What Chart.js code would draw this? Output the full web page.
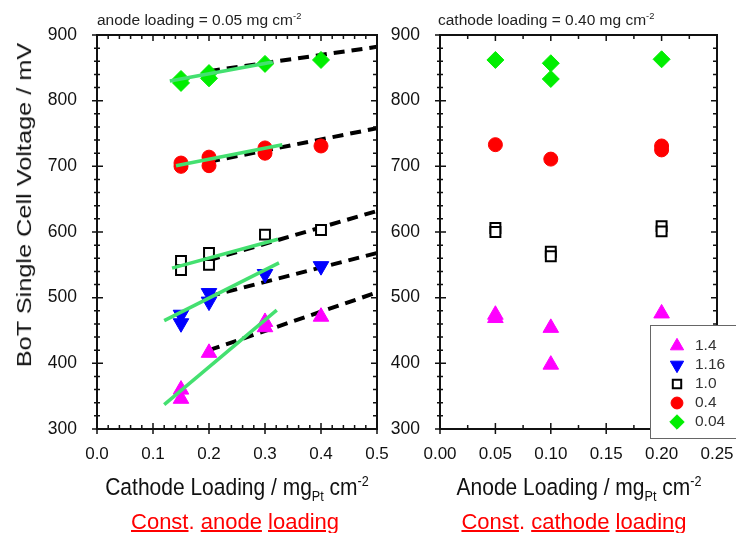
<!DOCTYPE html>
<html>
<head>
<meta charset="utf-8">
<script src="https://cdn.jsdelivr.net/npm/chart.js@4.4.0/dist/chart.umd.min.js"></script>
<style>
  body { margin: 0; background: #fff; }
  #page { position: relative; width: 736px; height: 533px; overflow: hidden; font-family: "Liberation Sans", Arial, sans-serif; }
  canvas { position: absolute; top: 0; }
  #cathodeChart { left: 0; }
  #anodeChart { left: 385px; }
  .txt { position: absolute; white-space: nowrap; transform: translate(-50%, -50%); color: #111; }
  .note { font-size: 15.5px; color: #222; transform: none; }
  .axis { font-size: 21px; transform: translate(-50%, -50%) scaleY(1.12); }
  .red { font-size: 22px; line-height: 24px; color: #ff0000; }
  .red u { text-decoration: underline; text-underline-offset: 1px; }
  sup, sub { font-size: 60%; line-height: 0; }
  #yTitle { font-size: 22px; transform: translate(-50%, -50%) rotate(-90deg) scale(1.15, 0.92); }
</style>
</head>
<body>
<div id="page">
  <canvas id="cathodeChart" width="390" height="533"></canvas>
  <canvas id="anodeChart" width="351" height="533"></canvas>

  <div class="txt note" style="left:97px; top:11px;">anode loading = 0.05 mg cm<sup>-2</sup></div>
  <div class="txt note" style="left:438px; top:11px;">cathode loading = 0.40 mg cm<sup>-2</sup></div>
  <div class="txt" id="yTitle" style="left:25px; top:205px;">BoT Single Cell Voltage / mV</div>
  <div class="txt axis" style="left:237px; top:487px;">Cathode Loading / mg<sub>Pt</sub> cm<sup>-2</sup></div>
  <div class="txt axis" style="left:579px; top:487px;">Anode Loading / mg<sub>Pt</sub> cm<sup>-2</sup></div>
  <div class="txt red" style="left:235px; top:522px;"><u>Const</u>. <u>anode</u> <u>loading</u></div>
  <div class="txt red" style="left:574px; top:522px;"><u>Const</u>. <u>cathode</u> <u>loading</u></div>
</div>

<script>
// series (legend labels, top to bottom)
var series = ['1.4', '1.16', '1.0', '0.4', '0.04'];

// left panel: cathode loading (anode = 0.05)
var cathX_14 = [0.15, 0.15, 0.2, 0.3, 0.3, 0.4];
var cathV_14 = [360, 346, 416, 463, 455, 471];
var cathX_116 = [0.15, 0.15, 0.2, 0.2, 0.3, 0.4];
var cathV_116 = [474, 461, 507, 494, 536, 548];
var cathX_10 = [0.15, 0.15, 0.2, 0.2, 0.3, 0.4];
var cathV_10 = [556, 542, 568, 550, 596, 603];
var cathX_04 = [0.15, 0.15, 0.2, 0.2, 0.3, 0.3, 0.4];
var cathV_04 = [705, 700, 714, 701, 728, 720, 731];
var cathX_004 = [0.15, 0.15, 0.2, 0.2, 0.3, 0.4];
var cathV_004 = [833, 827, 842, 834, 856, 862];

// black dashed trend lines
var dashX = [0.2, 0.5];
var dash_14 = [420, 508];
var dash_116 = [502, 568];
var dash_10 = [557, 632];
var dash_04 = [707, 758];
var dash_004 = [845, 882];

// green fit lines
var fitX_14 = [0.12, 0.321];
var fit_14 = [337, 481];
var fitX_116 = [0.12, 0.325];
var fit_116 = [465, 553];
var fitX_10 = [0.134, 0.323];
var fit_10 = [545, 589];
var fitX_04 = [0.141, 0.331];
var fit_04 = [701, 733];
var fitX_004 = [0.13, 0.314];
var fit_004 = [830, 859];

// right panel: anode loading (cathode = 0.40)
var anX_14 = [0.05, 0.05, 0.1, 0.1, 0.2];
var anV_14 = [474, 469, 454, 398, 476];
var anX_116 = [];
var anV_116 = [];
var anX_10 = [0.05, 0.05, 0.1, 0.1, 0.2, 0.2];
var anV_10 = [606, 600, 570, 563, 609, 601];
var anX_04 = [0.05, 0.1, 0.2, 0.2];
var anV_04 = [733, 711, 731, 725];
var anX_004 = [0.05, 0.1, 0.1, 0.2];
var anV_004 = [862, 857, 833, 863];

var styles = {
  '1.4':  { pointStyle: 'triangle', rotation: 0,   radius: 9,   fill: '#ff00ff', border: '#ff00ff', bw: 1 },
  '1.16': { pointStyle: 'triangle', rotation: 180, radius: 9,   fill: '#0000ff', border: '#0000ff', bw: 1 },
  '1.0':  { pointStyle: 'rect',     rotation: 0,   radius: 7,   fill: '#ffffff', border: '#000000', bw: 2 },
  '0.4':  { pointStyle: 'circle',   rotation: 0,   radius: 7,   fill: '#ff0000', border: '#ff0000', bw: 1 },
  '0.04': { pointStyle: 'rectRot',  rotation: 0,   radius: 8.5, fill: '#00ee00', border: '#00ee00', bw: 1 }
};

function points(xs, ys) {
  return xs.map(function (x, i) { return { x: x, y: ys[i] }; });
}

function markers(label, xs, ys) {
  var e = styles[label];
  return {
    label: label,
    data: points(xs, ys),
    showLine: false,
    pointStyle: e.pointStyle,
    pointRotation: e.rotation,
    pointRadius: e.radius,
    pointHoverRadius: e.radius,
    pointBackgroundColor: e.fill,
    pointBorderColor: e.border,
    pointBorderWidth: e.bw,
    order: 1
  };
}

function line(xs, ys, dashed) {
  return {
    data: points(xs, ys),
    showLine: true,
    pointRadius: 0,
    borderColor: dashed ? '#000000' : '#44e070',
    borderWidth: dashed ? 4 : 3.5,
    borderDash: dashed ? [11, 7] : [],
    borderCapStyle: 'butt',
    order: dashed ? 2 : 0
  };
}

// frame + major/minor ticks on all four sides
var framePlugin = {
  id: 'frame',
  afterDraw: function (chart) {
    var ctx = chart.ctx, a = chart.chartArea;
    ctx.save();
    ctx.strokeStyle = '#111';
    ctx.lineWidth = 1.5;
    ['x', 'y'].forEach(function (id) {
      var s = chart.scales[id];
      s.ticks.forEach(function (t) {
        var major = t.label !== '';
        var p = s.getPixelForValue(t.value);
        ctx.beginPath();
        if (id === 'x') {
          ctx.moveTo(p, a.bottom + (major ? 5 : 0));
          ctx.lineTo(p, a.bottom - (major ? 6 : 4));
          ctx.moveTo(p, a.top);
          ctx.lineTo(p, a.top + (major ? 6 : 4));
        } else {
          ctx.moveTo(a.left - (major ? 5 : 3), p);
          ctx.lineTo(a.left + (major ? 6 : 3), p);
          ctx.moveTo(a.right, p);
          ctx.lineTo(a.right - (major ? 6 : 4), p);
        }
        ctx.stroke();
      });
    });
    ctx.lineWidth = 2;
    ctx.strokeRect(a.left, a.top, a.right - a.left, a.bottom - a.top);
    ctx.restore();
  }
};

// boxed legend in the lower right of the anode panel
var legendPlugin = {
  id: 'boxLegend',
  afterDraw: function (chart) {
    var ctx = chart.ctx;
    var bx = 650 - 385, by = 325;
    ctx.save();
    ctx.fillStyle = '#ffffff';
    ctx.fillRect(bx, by, 140, 113);
    ctx.strokeStyle = '#666';
    ctx.lineWidth = 1;
    ctx.strokeRect(bx + 0.5, by + 0.5, 140, 113);
    ctx.font = '15.5px "Liberation Sans", Arial, sans-serif';
    ctx.textBaseline = 'middle';
    series.forEach(function (label, i) {
      var e = styles[label];
      var y = 346 + i * 19;
      ctx.fillStyle = e.fill;
      ctx.strokeStyle = e.border;
      ctx.lineWidth = e.bw;
      Chart.helpers.drawPoint(ctx, { pointStyle: e.pointStyle, rotation: e.rotation, radius: e.radius * 0.85, borderWidth: e.bw }, 292, y);
      ctx.fillStyle = '#333';
      ctx.fillText(label, 310, y);
    });
    ctx.restore();
  }
};

function yAxis(width) {
  return {
    type: 'linear', min: 300, max: 900,
    grid: { display: false }, border: { display: false },
    ticks: {
      stepSize: 20, autoSkip: false, padding: 12, color: '#111',
      font: { family: '"Liberation Sans", Arial, sans-serif', size: 17.5 },
      callback: function (v) { return v % 100 === 0 ? v : ''; }
    },
    afterFit: function (s) { s.width = width; s.paddingTop = 0; s.paddingBottom = 0; }
  };
}

function xAxis(max, step, every, digits) {
  return {
    type: 'linear', min: 0, max: max,
    grid: { display: false }, border: { display: false },
    ticks: {
      stepSize: step, autoSkip: false, maxRotation: 0, padding: 7, color: '#111',
      font: { family: '"Liberation Sans", Arial, sans-serif', size: 17 },
      callback: function (v) {
        var k = v / every;
        return Math.abs(k - Math.round(k)) < 1e-6 ? v.toFixed(digits) : '';
      }
    },
    afterFit: function (s) { s.height = 104; s.paddingLeft = 0; s.paddingRight = 0; }
  };
}

var cathodeData = [
  line(dashX, dash_14, true), line(dashX, dash_116, true), line(dashX, dash_10, true),
  line(dashX, dash_04, true), line(dashX, dash_004, true),
  markers('1.4', cathX_14, cathV_14), markers('1.16', cathX_116, cathV_116),
  markers('1.0', cathX_10, cathV_10), markers('0.4', cathX_04, cathV_04),
  markers('0.04', cathX_004, cathV_004),
  line(fitX_14, fit_14, false), line(fitX_116, fit_116, false), line(fitX_10, fit_10, false),
  line(fitX_04, fit_04, false), line(fitX_004, fit_004, false)
];

var grafico1 = new Chart(document.getElementById('cathodeChart').getContext('2d'), {
  type: 'scatter',
  data: { datasets: cathodeData },
  options: {
    responsive: false,
    animation: false,
    events: [],
    layout: { padding: { left: 0, top: 35, right: 13, bottom: 0 } },
    plugins: { legend: { display: false }, tooltip: { enabled: false } },
    scales: { x: xAxis(0.5, 0.02, 0.1, 1), y: yAxis(97) }
  },
  plugins: [framePlugin]
});

var anodeData = [
  markers('1.4', anX_14, anV_14), markers('1.16', anX_116, anV_116),
  markers('1.0', anX_10, anV_10), markers('0.4', anX_04, anV_04),
  markers('0.04', anX_004, anV_004)
];

var grafico2 = new Chart(document.getElementById('anodeChart').getContext('2d'), {
  type: 'scatter',
  data: { datasets: anodeData },
  options: {
    responsive: false,
    animation: false,
    events: [],
    layout: { padding: { left: 0, top: 35, right: 19, bottom: 0 } },
    plugins: { legend: { display: false }, tooltip: { enabled: false } },
    scales: { x: xAxis(0.25, 0.025, 0.05, 2), y: yAxis(55) }
  },
  plugins: [framePlugin, legendPlugin]
});
</script>
</body>
</html>
